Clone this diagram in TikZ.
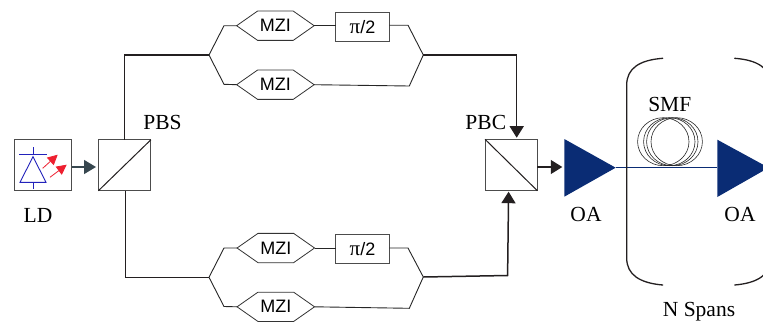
\documentclass[tikz,border=0pt]{standalone}
\usepackage{fontspec}
\setmainfont{Liberation Serif}
\newfontfamily\arialf{Liberation Sans}
\usetikzlibrary{arrows.meta,shapes.symbols,calc}
\definecolor{navy}{HTML}{0A2C74}
\definecolor{slate}{HTML}{37474F}
\definecolor{ink}{HTML}{231F20}
\definecolor{diode}{HTML}{2222BB}
\definecolor{laser}{HTML}{EE2030}
\newcommand{\pisym}{{\rmfamily\fontsize{21}{21}\selectfont π}}
\tikzset{
  wire/.style={line width=0.9pt,draw=black!85},
  mainwire/.style={line width=1.5pt,draw=ink},
  boxed/.style={draw=black!70,line width=1pt,fill=white,minimum width=#1,inner sep=0pt,outer sep=0pt},
  hex/.style={signal,signal to=east and west,signal pointer angle=70,
     draw=black!80,line width=0.8pt,fill=white,minimum width=77.5pt,minimum height=29.3pt,inner sep=0pt,outer sep=0pt,
     font=\arialf\fontsize{18}{18}\selectfont},
  shifter/.style={draw=black!70,line width=0.9pt,fill=white,minimum width=53.6pt,minimum height=29.4pt,inner sep=0pt,outer sep=0pt,
     font=\arialf\fontsize{18}{18}\selectfont},
  label/.style={inner sep=0pt,outer sep=0pt,font=\fontsize{21.5}{21.5}\selectfont},
  headbig/.style={-{Triangle[length=11.5pt,width=14pt]}},
  amp/.style={fill=navy,draw=none},
  coil/.style={draw=black!85,line width=0.6pt},
  bracket/.style={line width=1.3pt,draw=ink,line cap=round},
  redarrow/.style={draw=laser,line width=0.8pt,-{Triangle[length=10pt,width=10pt]}},
  diodeline/.style={draw=diode,line width=0.9pt}
}
\begin{document}
\begin{tikzpicture}[x=1pt,y=-1pt]
\useasboundingbox (0,0) rectangle (763,322);
% nodes
\node[boxed=57pt,minimum height=51pt] (ld) at (43,165.2) {};
\node[boxed=52.5pt,minimum height=51pt] (pbs) at (124.7,165.2) {};
\node[boxed=52.3pt,minimum height=51.4pt] (pbc) at (511.2,165) {};
\node[hex] (m1) at (275.4,25.7) {MZI};
\node[hex] (m2) at (275.4,84.7) {MZI};
\node[hex] (m3) at (275.8,248) {MZI};
\node[hex] (m4) at (275.8,306.8) {MZI};
\node[shifter] (p1) at (362.5,26.7) {\pisym/2};
\node[shifter] (p2) at (362.5,248.8) {\pisym/2};
% diagonals
\draw[line width=1pt,draw=ink] (pbs.south west) -- (pbs.north east);
\draw[line width=1pt,draw=ink] (pbc.north west) -- (pbc.south east);
% laser icon
\coordinate (dtop) at (33,147.3);
\coordinate (dbar) at (33,154.7);
\coordinate (dbase) at (33,182.3);
\coordinate (dbot) at (33,189.3);
\draw[diodeline] (dtop) -- (dbar) (dbase) -- (dbot);
\draw[diodeline] (19.3,154.7) -- (46.7,154.7);
\draw[diodeline] (33,156.7) -- (46,182.3) -- (20,182.3) -- cycle;
\draw[redarrow] (42.7,168.3) -- (57.7,154.7);
\draw[redarrow] (50,177.3) -- (66.7,164.7);
\draw[line width=1.3pt,draw=slate,-{Triangle[length=12pt,width=14pt]}] (ld.east |- 0,167) -- (96,167);
% upper arm
\coordinate (ul) at (209,55);
\coordinate (ur) at (423.3,55);
\coordinate (ua) at (224,25.7);
\coordinate (ub) at (224,84.3);
\coordinate (uc) at (408,25.2);
\coordinate (ud) at (409.3,86);
\draw[mainwire] (pbs.north) |- (ul);
\draw[wire] (m1.west) -- (ua) -- (ul) -- (ub) -- (m2.west);
\draw[wire] (m1.east) -- (p1.west |- m1.east);
\draw[wire] (p1.east |- uc) -- (uc) -- (ur) -- (ud) -- (m2.east);
\coordinate (ut) at (516.7,137.7);
\draw[mainwire,headbig] (ur) -- (ut |- ur) -- (ut);
% lower arm
\coordinate (ll) at (209,277.3);
\coordinate (lr) at (423.3,277);
\coordinate (la) at (224,248);
\coordinate (lb) at (224,306.5);
\coordinate (lc) at (408,248);
\coordinate (ld2) at (409.3,308.3);
\draw[mainwire] ($(pbs.south)+(1,0)$) |- (ll);
\draw[wire] (m3.west) -- (la) -- (ll) -- (lb) -- (m4.west);
\draw[wire] (m3.east) -- (p2.west |- m3.east);
\draw[wire] (p2.east |- lc) -- (lc) -- (lr) -- (ld2) -- (m4.east);
\coordinate (lt) at (508.6,191.7);
\coordinate (lk) at (507.6,275.5);
\draw[mainwire,headbig] (lr) -- (lk) -- (lt);
% amplifiers
\coordinate (a1) at (564.3,167.7);
\coordinate (a1t) at (615.7,167.7);
\coordinate (a2) at (717.3,167.7);
\draw[line width=1.1pt,draw=navy] (a1t) -- (a2);
\fill[amp] (564.3,139) -- (564.3,196.7) -- (a1t) -- cycle;
\fill[amp] (717.3,139.7) -- (717.3,197) -- (768.7,167.7) -- cycle;
\draw[mainwire,line width=1.1pt,-{Triangle[length=11.5pt,width=14pt]}] (pbc.east |- 0,167) -- (562.3,167);
% fibre coil
\draw[coil] (663.3,141.7) ellipse [x radius=25.7,y radius=24];
\draw[coil] (669.3,141.7) ellipse [x radius=25.7,y radius=24];
\draw[coil] (672.3,141.7) ellipse [x radius=25.7,y radius=24];
\draw[coil] (676.7,141.7) ellipse [x radius=25.7,y radius=24];
% brackets
\draw[bracket] (662.7,58.3) .. controls (640,60) and (626.7,68) .. (626.7,85) -- (626.7,258) .. controls (626.7,275) and (640,283) .. (662.7,285);
\draw[bracket] (734.7,58.3) .. controls (757.4,60) and (770.7,68) .. (770.7,85) -- (770.7,258) .. controls (770.7,275) and (757.4,283) .. (734.7,285);
% labels
\node[label,anchor=base] (tld) at (38,222) {LD};
\node[label,anchor=base] (tpbs) at (162.5,129) {PBS};
\node[label,anchor=base] (tpbc) at (485.8,129) {PBC};
\node[label,anchor=base] (tsmf) at (669.8,111) {SMF};
\node[label,anchor=base] (toa1) at (586,221) {OA};
\node[label,anchor=base] (toa2) at (740,221) {OA};
\node[label,anchor=base] (tn) at (699,316) {N Spans};
\end{tikzpicture}
\end{document}
